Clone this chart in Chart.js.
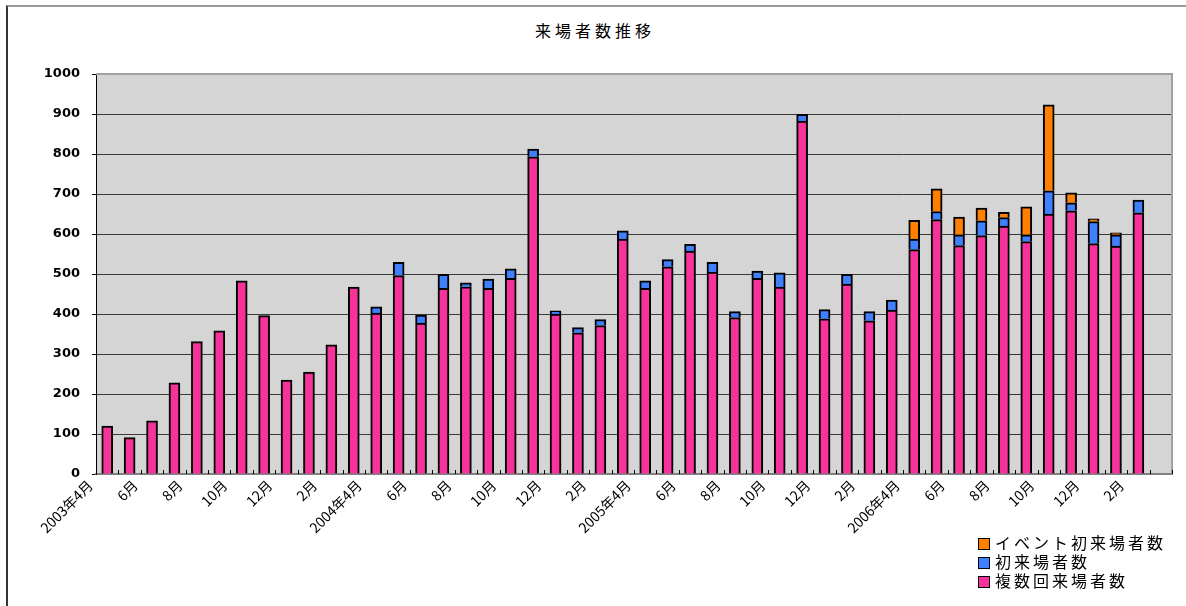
<!DOCTYPE html>
<html>
<head>
<meta charset="utf-8">
<script src="https://cdn.jsdelivr.net/npm/chart.js@4/dist/chart.umd.min.js"></script>
<style>
  body { margin: 0; background: #fff; }
  #wrap { position: relative; width: 1186px; height: 606px; overflow: hidden; }
  #frame { position: absolute; left: 6px; top: 5px; width: 1300px; height: 700px;
           border-left: 2px solid #333; border-top: 2px solid #9a9a9a; }
  #title { position: absolute; left: 535px; top: 18px; font: 16px "Noto Sans CJK JP";
           letter-spacing: 4px; color: #000; }
  #legend { position: absolute; left: 978px; top: 533px; font: 16px "Noto Sans CJK JP";
            letter-spacing: 3px; color: #000; }
  #legend div { height: 19px; line-height: 19px; white-space: nowrap; }
  #legend span { display: inline-block; width: 10px; height: 10px; border: 1px solid #000;
                 margin-right: 5px; vertical-align: -1px; }
  canvas { position: absolute; left: 0; top: 0; }
</style>
</head>
<body>
<div id="wrap">
  <div id="frame"></div>
  <div id="title">来場者数推移</div>
  <canvas id="myChart" width="1186" height="606"></canvas>
  <div id="legend"></div>
</div>
<script>

// DONNEES //

const months = [
  '2003年4月','5月','6月','7月','8月','9月','10月','11月','12月','1月','2月','3月',
  '2004年4月','5月','6月','7月','8月','9月','10月','11月','12月','1月','2月','3月',
  '2005年4月','5月','6月','7月','8月','9月','10月','11月','12月','1月','2月','3月',
  '2006年4月','5月','6月','7月','8月','9月','10月','11月','12月','1月','2月','3月'
];

const repeatVisitors = [
  120, 91, 133, 228, 331, 358, 483, 396, 235, 255, 323, 467,
  402, 496, 377, 464, 468, 464, 489, 793, 400, 353, 371, 587,
  464, 518, 557, 505, 391, 489, 467, 882, 388, 475, 383, 410,
  561, 636, 571, 596, 620, 581, 650, 658, 576, 570, 653, null
];

const firstVisitors = [
  null, null, null, null, null, null, null, null, null, null, null, null,
  16, 33, 20, 35, 10, 23, 24, 19, 8, 13, 15, 21,
  19, 18, 17, 24, 15, 18, 36, 17, 23, 24, 23, 25,
  26, 20, 27, 37, 21, 17, 58, 20, 55, 28, 32, null
];

const eventFirstVisitors = [
  null, null, null, null, null, null, null, null, null, null, null, null,
  null, null, null, null, null, null, null, null, null, null, null, null,
  null, null, null, null, null, null, null, null, null, null, null, null,
  47, 57, 44, 32, 13, 70, 215, 25, 7, 5, null, null
];

const yTicks = [0, 100, 200, 300, 400, 500, 600, 700, 800, 900, 1000];


// GRAPHIQUE //

const plotFrame = {
  id: 'plotFrame',
  beforeDraw(chart) {
    const { ctx, chartArea: a } = chart;
    ctx.save();
    ctx.fillStyle = '#d5d5d5';
    ctx.fillRect(a.left, a.top, a.right - a.left, a.bottom - a.top);
    ctx.restore();
  },
  afterDraw(chart) {
    const { ctx, chartArea: a } = chart;
    const x = chart.scales.x;
    ctx.save();
    ctx.strokeStyle = '#a0a0a0';
    ctx.lineWidth = 2;
    ctx.beginPath();
    ctx.moveTo(a.left, a.top);
    ctx.lineTo(a.right, a.top);
    ctx.lineTo(a.right, a.bottom);
    ctx.stroke();
    // petites graduations vers l'interieur
    ctx.strokeStyle = '#000';
    ctx.lineWidth = 1;
    const step = (a.right - a.left) / months.length;
    ctx.beginPath();
    for (let i = 0; i <= months.length; i++) {
      const px = Math.round(x.getPixelForValue(i) - step / 2) + 0.5;
      ctx.moveTo(px, a.bottom);
      ctx.lineTo(px, a.bottom - 4);
    }
    ctx.stroke();
    ctx.restore();
  }
};

const ctx = document.getElementById('myChart');

const chart = new Chart(ctx, {
  type: 'bar',
  data: {
    labels: months,
    datasets: [{
      label: '複数回来場者数',
      data: repeatVisitors,
      backgroundColor: '#f7329a'
    }, {
      label: '初来場者数',
      data: firstVisitors,
      backgroundColor: '#3f80ff'
    }, {
      label: 'イベント初来場者数',
      data: eventFirstVisitors,
      backgroundColor: '#ff8000'
    }]
  },
  options: {
    responsive: false,
    animation: false,
    datasets: {
      bar: { barThickness: 11, borderColor: '#000', borderWidth: 2 }
    },
    layout: {
      padding: { left: 0, top: 74, right: 14, bottom: 0 }
    },
    plugins: {
      legend: false,
      tooltip: { enabled: false }
    },
    scales: {
      x: {
        stacked: true,
        afterFit: (s) => { s.height = 132; },
        grid: { display: false, drawTicks: false },
        border: { color: '#808080', width: 2 },
        ticks: {
          autoSkip: false,
          minRotation: 45,
          maxRotation: 45,
          padding: 3,
          labelOffset: -17,
          color: '#000',
          font: { family: '"Noto Sans CJK JP"', size: 14 },
          callback: (v, i) => (i % 2 === 0 ? months[i] : '')
        }
      },
      y: {
        stacked: true,
        min: 0,
        max: 1000,
        afterFit: (s) => { s.width = 96; },
        afterBuildTicks: (s) => { s.ticks = yTicks.map(v => ({ value: v })); },
        grid: { color: '#3a3a3a', lineWidth: 1, tickLength: 4, tickColor: '#000' },
        border: { color: '#000', width: 1 },
        ticks: {
          padding: 12,
          color: '#000',
          font: { family: '"DejaVu Sans"', size: 13, weight: 'bold' },
          callback: (v) => String(v)
        }
      }
    }
  },
  plugins: [plotFrame]
});


// LEGENDE //

const legend = document.getElementById('legend');
chart.data.datasets.slice().reverse().forEach(ds => {
  const row = document.createElement('div');
  row.innerHTML = `<span style="background:${ds.backgroundColor}"></span>${ds.label}`;
  legend.appendChild(row);
});

</script>
</body>
</html>
